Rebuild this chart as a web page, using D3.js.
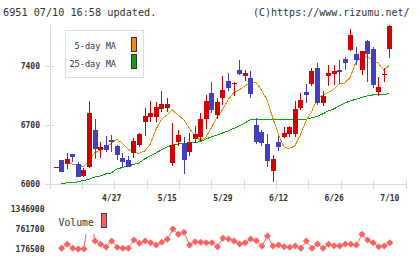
<!DOCTYPE html>
<html>
<head>
<meta charset="utf-8">
<script src="https://cdn.jsdelivr.net/npm/d3@7"></script>
<style>
  body { margin: 0; background: #fff; }
  text { font-family: "DejaVu Sans Mono", monospace; fill: #333; }
</style>
</head>
<body>
<div id="chart"></div>
<script>
// trading days shown (2020)
const dates = ["4/13","4/14","4/15","4/16","4/17","4/20","4/21","4/22","4/23","4/24",
  "4/27","4/28","4/30","5/1","5/7","5/8","5/11","5/12","5/13","5/14",
  "5/15","5/18","5/19","5/20","5/21","5/22","5/25","5/26","5/27","5/28",
  "5/29","6/1","6/2","6/3","6/4","6/5","6/8","6/9","6/10","6/11",
  "6/12","6/15","6/16","6/17","6/18","6/19","6/22","6/23","6/24","6/25",
  "6/26","6/29","6/30","7/1","7/2","7/3","7/6","7/7","7/8","7/9","7/10"];
const labelDates = ["4/27", "5/15", "5/29", "6/12", "6/26", "7/10"];

const open  = [6200,6285,6237,6356,6241,6098,6200,6641,6403,6463,6522,6451,6312,6285,6364,6463,6739,6798,6798,6890,
               6902,6253,6502,6475,6383,6534,6561,6771,7083,6819,7024,7222,7183,7352,7285,7261,6700,6620,6475,6158,
               6502,6554,6599,6599,6905,7088,7186,7376,6965,7285,7305,7352,7483,7590,7550,7352,7697,7602,7095,7290,7602];
const high  = [6205,6290,6364,6360,6260,6186,6985,6768,6502,6570,6581,6460,6368,6332,6549,6609,6905,6985,6976,7103,
               7024,6727,6641,6557,6601,6688,6846,7062,7214,7024,7285,7320,7216,7471,7352,7346,6779,6641,6593,6344,
               6575,6676,6694,6988,7086,7183,7380,7444,7103,7420,7418,7471,7510,7839,7629,7585,7712,7629,7273,7373,7886];
const low   = [6195,6140,6174,6265,6085,6087,6195,6297,6305,6383,6383,6285,6205,6200,6312,6443,6570,6732,6739,6858,
               6858,6213,6451,6119,6332,6490,6514,6652,6842,6771,6937,7103,7044,7300,7222,7017,6475,6457,6205,6018,
               6392,6546,6564,6558,6878,6965,7166,6937,6925,7166,7174,7186,7356,7586,7420,7301,7216,7143,7044,7214,7501];
const close = [6200,6146,6297,6324,6087,6166,6846,6415,6443,6403,6495,6344,6265,6205,6510,6590,6807,6846,6917,6949,
               6949,6463,6581,6285,6502,6593,6767,6985,6878,6973,7115,7143,7195,7305,7320,7068,6502,6492,6276,6293,
               6443,6601,6673,6890,6997,7062,7343,6961,7044,7320,7340,7329,7439,7768,7471,7578,7548,7175,7154,7310,7878];

// moving averages (null = not drawn)
const ma5 = [null,null,6258,6238,6226,6208,6273,6368,6404,6434,6481,6531,6487,6416,6374,6365,6392,6470,6642,6767,
             6820,6880,6820,6767,6666,6582,6517,6553,6666,6796,6880,6999,7082,7117,7165,7201,7212,7117,6999,6796,
             6603,6440,6422,6452,6582,6749,6856,7010,7054,7088,7123,7189,7201,7272,7450,7506,7510,7480,7435,7355,7409];
const ma25 = [null,6008,6012,6020,6024,6042,6053,6083,6095,6119,6131,6178,6196,6214,6232,6250,6297,6333,6368,6404,
              6440,6464,6475,6481,6487,6493,6503,6535,6559,6582,6606,6630,6660,6689,6725,6761,6769,6769,6769,6769,
              6767,6767,6761,6763,6767,6769,6785,6802,6832,6868,6892,6927,6963,6987,7007,7028,7046,7058,7058,7058,7078];

const volume = [null,197000,314000,197000,176500,180000,1346900,410000,314000,235000,410000,226000,197000,197000,440000,343000,410000,361000,294000,373000,
                460000,762000,607000,665000,294000,390000,373000,361000,361000,244000,490000,469000,410000,323000,361000,469000,419000,264000,557000,264000,
                294000,244000,226000,264000,197000,410000,197000,323000,197000,314000,273000,264000,323000,314000,294000,607000,440000,361000,244000,264000,361000];

const priceTicks = [6000, 6700, 7400];
const volumeTicks = [176500, 761700, 1346900];

const W = 420, H = 259;
const svg = d3.select("#chart").append("svg")
    .attr("width", W)
    .attr("height", H);

const x = d3.scaleLinear().domain([-1, 63]).range([50, 406]);
const y = d3.scaleLinear().domain([6000, 7890]).range([184, 25]);
const yv = d3.scaleLinear().domain([176500, 1346900]).range([249, 209]);

const RED = "#d40000", BLUE = "#4040c0", GRID = "#d9d9d9";

// header
svg.append("text").attr("x", 3).attr("y", 16).attr("font-size", 10.2)
    .text("6951 07/10 16:58 updated.");
svg.append("text").attr("x", 253).attr("y", 16).attr("font-size", 10)
    .text("(C)https://www.rizumu.net/");

// axes
svg.append("line").attr("x1", x(-1)).attr("x2", x(-1)).attr("y1", 25).attr("y2", 188)
    .attr("stroke", GRID).attr("shape-rendering", "crispEdges");
svg.append("line").attr("x1", x(-1) - 2).attr("x2", x(63)).attr("y1", y(6000)).attr("y2", y(6000))
    .attr("stroke", GRID).attr("shape-rendering", "crispEdges");

const xTicks = d3.range(12).map(k => -1 + k * 64 / 11);
svg.selectAll(".xtick").data(xTicks).enter().append("line")
    .attr("x1", d => x(d)).attr("x2", d => x(d))
    .attr("y1", 180).attr("y2", 189)
    .attr("stroke", GRID).attr("shape-rendering", "crispEdges");

svg.selectAll(".ytick").data(priceTicks).enter().append("line")
    .attr("x1", 45).attr("x2", 54)
    .attr("y1", d => y(d)).attr("y2", d => y(d))
    .attr("stroke", GRID).attr("shape-rendering", "crispEdges");

svg.selectAll(".ylab").data(priceTicks).enter().append("text")
    .attr("x", 40).attr("y", d => y(d) + 3)
    .attr("text-anchor", "end").attr("font-size", 8).attr("font-weight", "bold")
    .text(d => d);

svg.selectAll(".xlab").data(labelDates).enter().append("text")
    .attr("x", d => x(dates.indexOf(d)) + 0.5).attr("y", 201)
    .attr("text-anchor", "middle").attr("font-size", 8).attr("font-weight", "bold")
    .text(d => d);

// moving averages
const maLine = d3.line()
    .defined(d => d != null)
    .x((d, i) => x(i))
    .y(d => y(d));

svg.append("path").datum(ma25)
    .attr("fill", "none").attr("stroke", "#10a010").attr("stroke-width", 1)
    .attr("shape-rendering", "crispEdges")
    .attr("d", maLine);
svg.append("path").datum(ma5)
    .attr("fill", "none").attr("stroke", "#f08c10").attr("stroke-width", 1)
    .attr("shape-rendering", "crispEdges")
    .attr("d", maLine);

// candles
const candles = d3.range(dates.length).map(i => ({
    i: i, o: open[i], h: high[i], l: low[i], c: close[i]
}));
const cg = svg.append("g").attr("shape-rendering", "crispEdges");
cg.selectAll(".wick").data(candles).enter().append("line")
    .attr("x1", d => Math.round(x(d.i)) + 0.5).attr("x2", d => Math.round(x(d.i)) + 0.5)
    .attr("y1", d => y(d.h)).attr("y2", d => y(d.l))
    .attr("stroke", d => d.c >= d.o ? RED : BLUE);
cg.selectAll(".body").data(candles).enter().append("rect")
    .attr("x", d => Math.round(x(d.i)) - 2)
    .attr("width", 5)
    .attr("y", d => y(Math.max(d.o, d.c)))
    .attr("height", d => Math.max(1, y(Math.min(d.o, d.c)) - y(Math.max(d.o, d.c))))
    .attr("fill", d => d.c >= d.o ? RED : BLUE);

// MA legend
svg.append("rect").attr("x", 65.5).attr("y", 30.5).attr("width", 78).attr("height", 47)
    .attr("fill", "#fff").attr("stroke", "#ddd");
svg.append("text").attr("x", 116).attr("y", 48.5).attr("text-anchor", "end")
    .attr("font-size", 8.6)
    .text("5-day MA");
svg.append("text").attr("x", 116).attr("y", 66.5).attr("text-anchor", "end")
    .attr("font-size", 8.6)
    .text("25-day MA");
svg.append("rect").attr("x", 131.5).attr("y", 37.5).attr("width", 5).attr("height", 14)
    .attr("fill", "#f08c10").attr("stroke", "#333");
svg.append("rect").attr("x", 131.5).attr("y", 54.5).attr("width", 5).attr("height", 14)
    .attr("fill", "#10a010").attr("stroke", "#333");

// volume
svg.selectAll(".vlab").data(volumeTicks).enter().append("text")
    .attr("x", 44.5).attr("y", d => yv(d) + 3)
    .attr("text-anchor", "end").attr("font-size", 8).attr("font-weight", "bold")
    .text(d => d);

const vLine = d3.line()
    .defined(d => d != null)
    .x((d, i) => x(i) + 0.5)
    .y(d => yv(d));
svg.append("path").datum(volume)
    .attr("fill", "none").attr("stroke", "#ff6060").attr("stroke-width", 1)
    .attr("d", vLine);
svg.selectAll(".vpt").data(volume.map((v, i) => ({ v: v, i: i })).filter(d => d.v != null))
    .enter().append("path")
    .attr("transform", d => `translate(${x(d.i) + 0.5},${yv(d.v)})`)
    .attr("d", "M0,-3.5L3.5,0L0,3.5L-3.5,0Z")
    .attr("fill", "#ff6060");

svg.append("rect").attr("x", 55).attr("y", 205).attr("width", 56).attr("height", 29).attr("fill", "#fff");
svg.append("text").attr("x", 58.5).attr("y", 225.5).attr("font-size", 9.8)
    .text("Volume");
svg.append("rect").attr("x", 101.5).attr("y", 213.5).attr("width", 5).attr("height", 14)
    .attr("fill", "#ff6060").attr("stroke", "#444");
</script>
</body>
</html>
